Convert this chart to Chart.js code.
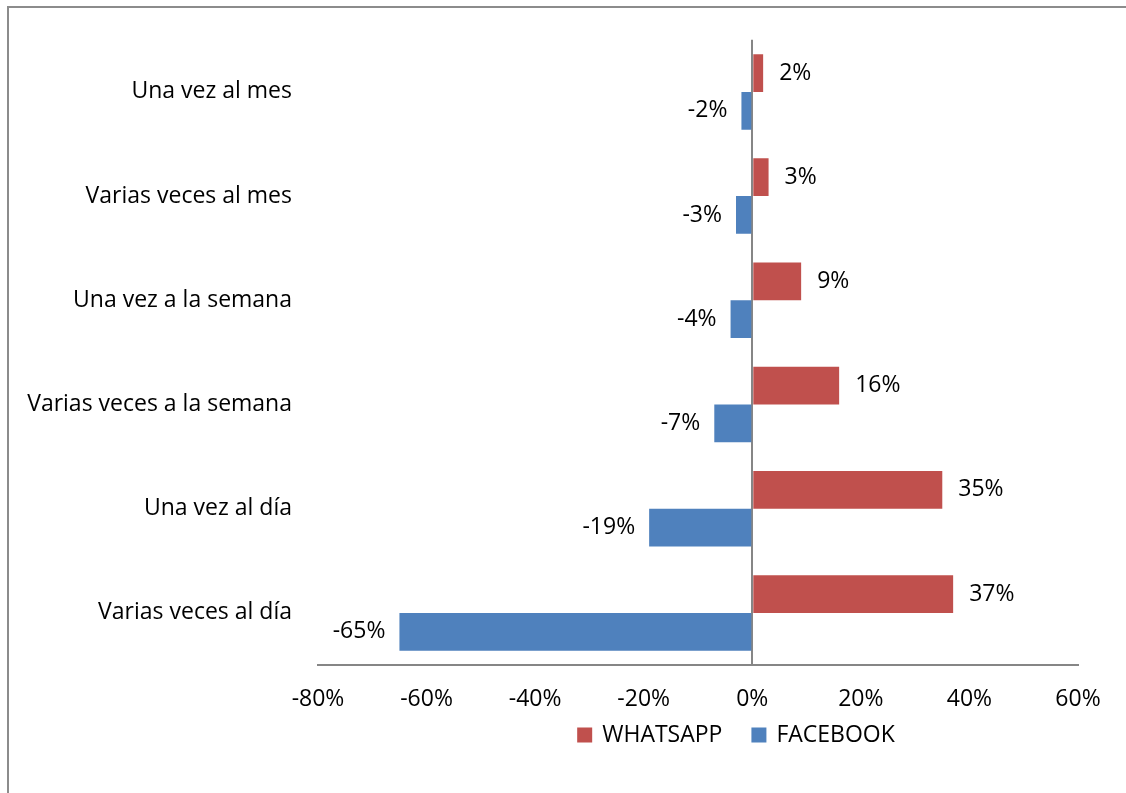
<!DOCTYPE html>
<html>
<head>
<meta charset="utf-8">
<title>WhatsApp vs Facebook</title>
<script src="https://cdn.jsdelivr.net/npm/chart.js"></script>
<style>
  body { margin: 0; background: #fff; }
  #wrap { position: relative; width: 1126px; height: 793px; overflow: hidden; }
  #frame { position: absolute; left: 7px; top: 6px; width: 1200px; height: 900px;
           border-top: 2px solid #8c8c8c; border-left: 2px solid #8c8c8c; }
  #myChart { position: absolute; left: 0; top: 0; }
</style>
</head>
<body>
<div id="wrap">
  <div id="frame"></div>
  <canvas id="myChart" width="1126" height="793"></canvas>
</div>
<script>
var categories = ['Una vez al mes', 'Varias veces al mes', 'Una vez a la semana',
                  'Varias veces a la semana', 'Una vez al día', 'Varias veces al día'];
var whatsapp = [2, 3, 9, 16, 35, 37];
var facebook = [-2, -3, -4, -7, -19, -65];
var seriesNames = ['WHATSAPP', 'FACEBOOK'];
var xTicks = [-80, -60, -40, -20, 0, 20, 40, 60];

var FONT = '"Open Sans", Lato, sans-serif';
var FSIZE = 23;
var AXIS = '#868686';

// value labels at the end of each bar
var barLabels = {
    id: 'barLabels',
    afterDatasetsDraw: function(chart) {
        var ctx = chart.ctx;
        ctx.save();
        ctx.font = FSIZE + 'px ' + FONT;
        ctx.fillStyle = '#000';
        ctx.textBaseline = 'middle';
        chart.data.datasets.forEach(function(ds, i) {
            chart.getDatasetMeta(i).data.forEach(function(bar, j) {
                var v = ds.data[j];
                if (v >= 0) {
                    ctx.textAlign = 'left';
                    ctx.fillText(v + '%', bar.x + 16, bar.y);
                } else {
                    ctx.textAlign = 'right';
                    ctx.fillText(v + '%', bar.x - 14, bar.y);
                }
            });
        });
        ctx.restore();
    }
};

// legend centred like the original (not on the canvas centre)
var bottomLegend = {
    id: 'bottomLegend',
    afterDraw: function(chart) {
        var ctx = chart.ctx;
        ctx.save();
        ctx.font = FSIZE + 'px ' + FONT;
        ctx.textBaseline = 'middle';
        ctx.textAlign = 'left';
        var box = 15, gap = 10, space = 29;
        var items = chart.data.datasets.map(function(ds) {
            return { text: ds.label, color: ds.backgroundColor, w: ctx.measureText(ds.label).width };
        });
        var total = 0;
        items.forEach(function(it, k) { total += box + gap + it.w + (k ? space : 0); });
        var x = 736 - total / 2, y = 735;
        items.forEach(function(it) {
            ctx.fillStyle = it.color;
            ctx.fillRect(x, y - box / 2, box, box);
            ctx.fillStyle = '#000';
            ctx.fillText(it.text, x + box + gap, y);
            x += box + gap + it.w + space;
        });
        ctx.restore();
    }
};

new Chart(document.getElementById('myChart'), {
    type: 'bar',
    data: {
        labels: categories,
        datasets: [
            { label: seriesNames[0], data: whatsapp, backgroundColor: '#C0504D' },
            { label: seriesNames[1], data: facebook, backgroundColor: '#4F81BD' }
        ]
    },
    options: {
        indexAxis: 'y',
        responsive: false,
        animation: false,
        categoryPercentage: 0.725,
        barPercentage: 1,
        layout: { padding: { top: 35, right: 48, bottom: 68, left: 0 } },
        plugins: {
            legend: { display: false },
            tooltip: { enabled: false }
        },
        scales: {
            x: {
                min: -80,
                max: 60,
                afterBuildTicks: function(scale) {
                    scale.ticks = xTicks.map(function(v) { return { value: v }; });
                },
                afterFit: function(scale) { scale.height = 60; },
                grid: {
                    drawTicks: false,
                    lineWidth: 2,
                    color: function(c) { return c.tick && c.tick.value === 0 ? AXIS : 'rgba(0,0,0,0)'; }
                },
                border: { display: true, color: AXIS, width: 2 },
                ticks: {
                    padding: 21,
                    color: '#000',
                    font: { family: FONT, size: FSIZE },
                    callback: function(v) { return v + '%'; }
                }
            },
            y: {
                afterFit: function(scale) { scale.width = 318; },
                grid: { display: false, drawTicks: false },
                border: { display: false },
                ticks: {
                    padding: 26,
                    color: '#000',
                    font: { family: FONT, size: FSIZE }
                }
            }
        }
    },
    plugins: [barLabels, bottomLegend]
});
</script>
</body>
</html>
